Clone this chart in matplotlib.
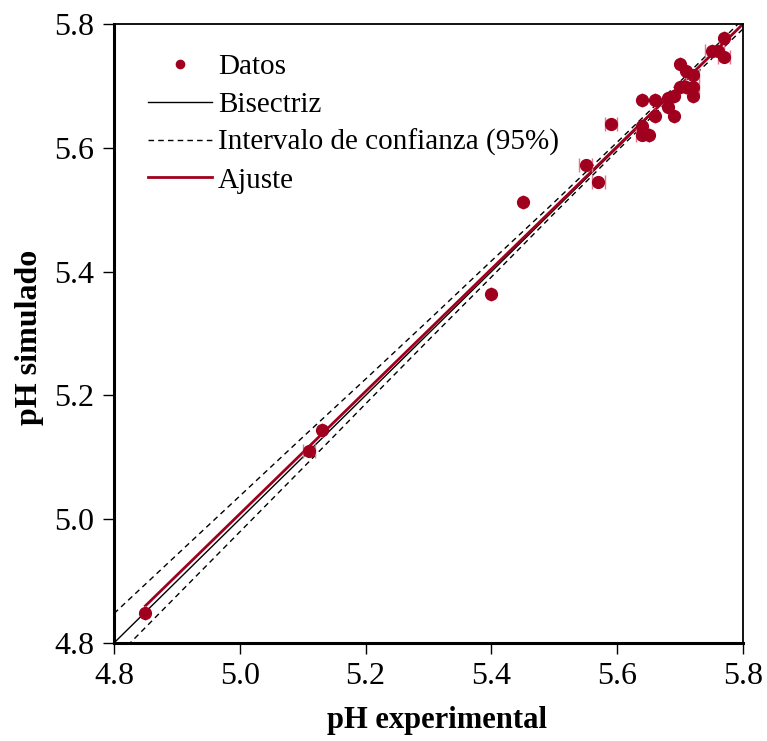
import numpy as np
import matplotlib
matplotlib.use("Agg")
import matplotlib.pyplot as plt

plt.rcParams['font.family'] = ['Liberation Serif', 'DejaVu Serif']

# datos
ph_exp = [4.85, 5.11, 5.13, 5.40, 5.45, 5.55, 5.57, 5.59,
          5.64, 5.64, 5.64, 5.65, 5.66, 5.66, 5.68, 5.68, 5.69, 5.69,
          5.70, 5.70, 5.71, 5.71, 5.72, 5.72, 5.72, 5.75, 5.76, 5.77, 5.77]
ph_sim = [4.848, 5.110, 5.144, 5.364, 5.512, 5.573, 5.545, 5.638,
          5.677, 5.636, 5.621, 5.620, 5.677, 5.652, 5.680, 5.666, 5.683, 5.651,
          5.735, 5.699, 5.724, 5.699, 5.718, 5.699, 5.684, 5.757, 5.757, 5.778, 5.746]
err_exp = [0.0, 0.01, 0.0, 0.0, 0.0, 0.01, 0.01, 0.01,
           0.0, 0.0, 0.01, 0.0, 0.0, 0.0, 0.0, 0.0, 0.0, 0.0,
           0.0, 0.0, 0.0, 0.0, 0.01, 0.01, 0.0, 0.01, 0.01, 0.0, 0.01]

# recta de ajuste (extremos leidos)
fit_x = [4.85, 5.80]
fit_y = [4.86, 5.80]

# semiancho del intervalo de confianza alrededor del ajuste
ci_x = [4.8, 4.9, 5.0, 5.1, 5.2, 5.3, 5.4, 5.5, 5.6, 5.7, 5.8]
ci_w = [0.037, 0.033, 0.029, 0.025, 0.020, 0.016, 0.013, 0.009, 0.007, 0.006, 0.008]

ticks = [4.8, 5.0, 5.2, 5.4, 5.6, 5.8]
red = '#a0001e'

fig = plt.figure(figsize=(7.67, 7.41), dpi=100)
ax = fig.add_axes([0.1486, 0.1323, 0.8201, 0.8353])

slope = (fit_y[1] - fit_y[0]) / (fit_x[1] - fit_x[0])
cx = np.array(ci_x)
cfit = fit_y[0] + slope * (cx - fit_x[0])

ax.plot([4.8, 5.8], [4.8, 5.8], color='black', lw=1, label='Bisectriz')
ax.plot(cx, cfit + np.array(ci_w), color='black', lw=1, ls=(0, (4, 3)),
        label='Intervalo de confianza (95%)')
ax.plot(cx, cfit - np.array(ci_w), color='black', lw=1, ls=(0, (4, 3)))
ax.plot(fit_x, fit_y, color=red, lw=2, label='Ajuste')

ax.errorbar(ph_exp, ph_sim, xerr=err_exp, fmt='none', ecolor='#e07890',
            elinewidth=1, capsize=5, capthick=1, zorder=3)
ax.errorbar(ph_exp, ph_sim, xerr=0.006, yerr=0.006, fmt='none', ecolor='black',
            elinewidth=1, capsize=0, zorder=3)
ax.plot(ph_exp, ph_sim, 'o', color=red, ms=8.5, ls='none', zorder=4, label='Datos')

ax.set_xlim(4.8, 5.8)
ax.set_ylim(4.8, 5.8)
ax.set_xticks(ticks)
ax.set_yticks(ticks)
ax.set_xticklabels([f'{t:.1f}' for t in ticks])
ax.set_yticklabels([f'{t:.1f}' for t in ticks])
ax.tick_params(direction='out', length=8, width=1, labelsize=23, pad=6)

for s in ['left', 'bottom']:
    ax.spines[s].set_linewidth(2.2)
for s in ['top', 'right']:
    ax.spines[s].set_linewidth(1.3)

ax.set_xlabel('pH experimental', fontsize=22, fontweight='bold')
ax.set_ylabel('pH simulado', fontsize=23, fontweight='bold')
ax.xaxis.set_label_coords(0.513, -0.102)
ax.yaxis.set_label_coords(-0.112, 0.494)

h, l = ax.get_legend_handles_labels()
order = [l.index('Datos'), l.index('Bisectriz'),
         l.index('Intervalo de confianza (95%)'), l.index('Ajuste')]
ax.legend([h[i] for i in order], [l[i] for i in order], loc='upper left',
          frameon=False, fontsize=21, handlelength=2.2, handletextpad=0.2,
          labelspacing=0.38, bbox_to_anchor=(0.026, 0.98), markerscale=0.7,
          borderaxespad=0.2)

fig.savefig('out.png', dpi=100)
